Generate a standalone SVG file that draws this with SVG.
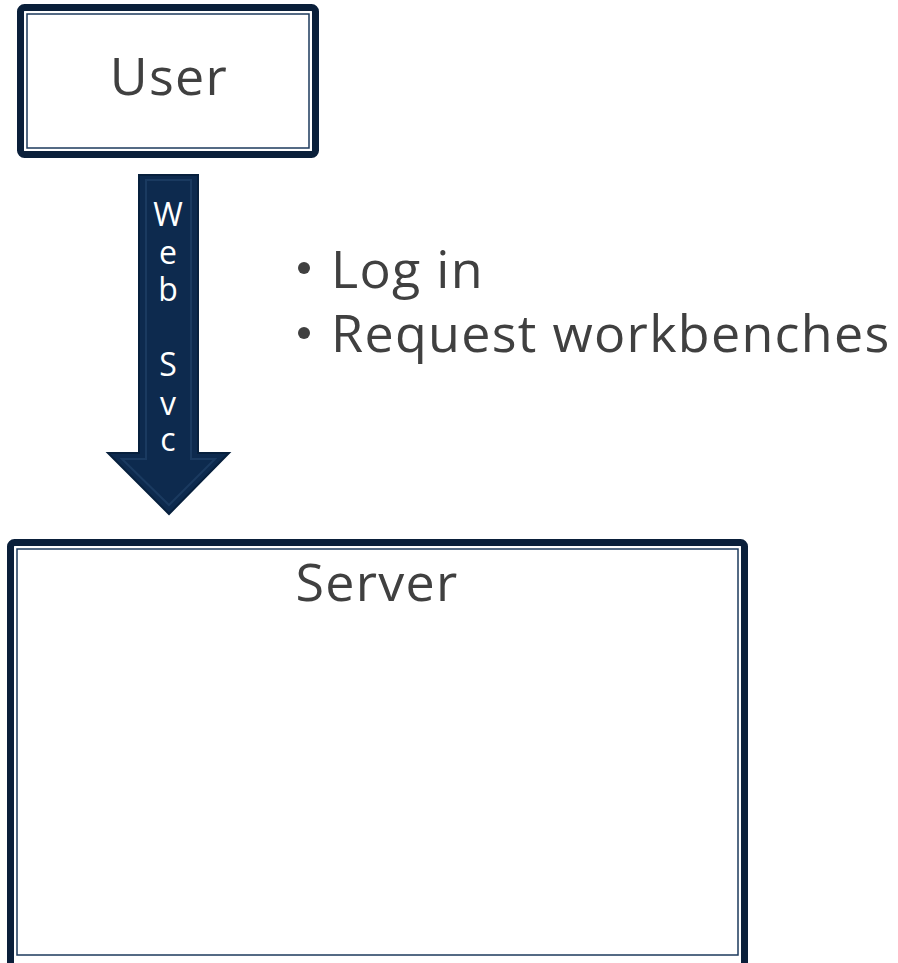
<svg xmlns="http://www.w3.org/2000/svg" width="898" height="963" viewBox="0 0 898 963">
<style>
.outer{fill:#ffffff;stroke:#0a1f3a;stroke-width:7}
.inner{fill:none;stroke:#1c3a5c;stroke-width:1.5}
.lbl{font-family:"Open Sans","Liberation Sans",sans-serif;font-size:52px;fill:#404040;letter-spacing:1.3px}
.arr{font-family:"Open Sans","Liberation Sans",sans-serif;font-size:32px;fill:#ffffff;text-anchor:middle}
</style>
<rect width="898" height="963" fill="#ffffff"/>
<g id="user">
<rect class="outer" x="20.5" y="7.5" width="295" height="147" rx="4"/>
<rect class="inner" x="27" y="14" width="282" height="134"/>
<text class="lbl" x="169" y="95" text-anchor="middle">User</text>
</g>
<g id="connectors">
<g id="websvc">
<path d="M139,175 H198 V453 H229 L169,514 L108,453 H139 Z" fill="#0d2a4e" stroke="#07203d" stroke-width="2"/>
<path d="M146,180 H191 V459 H215 L169,505 L122,459 H146 Z" fill="none" stroke="#1a3a60" stroke-width="2"/>
<text class="arr" x="168" y="226">W</text>
<text class="arr" x="168" y="264">e</text>
<text class="arr" x="168" y="301">b</text>
<text class="arr" x="168" y="376">S</text>
<text class="arr" x="168" y="415">v</text>
<text class="arr" x="168" y="451">c</text>
</g>
</g>
<g id="notes">
<circle cx="304" cy="268" r="6" fill="#404040"/>
<text class="lbl" x="331" y="288">Log in</text>
<circle cx="304" cy="333" r="6" fill="#404040"/>
<text class="lbl" x="331" y="352">Request workbenches</text>
</g>
<g id="server">
<rect class="outer" x="10.5" y="542.5" width="734" height="425" rx="4"/>
<rect class="inner" x="17" y="549" width="721" height="406"/>
<text class="lbl" x="377" y="601" text-anchor="middle">Server</text>
</g>
</svg>
